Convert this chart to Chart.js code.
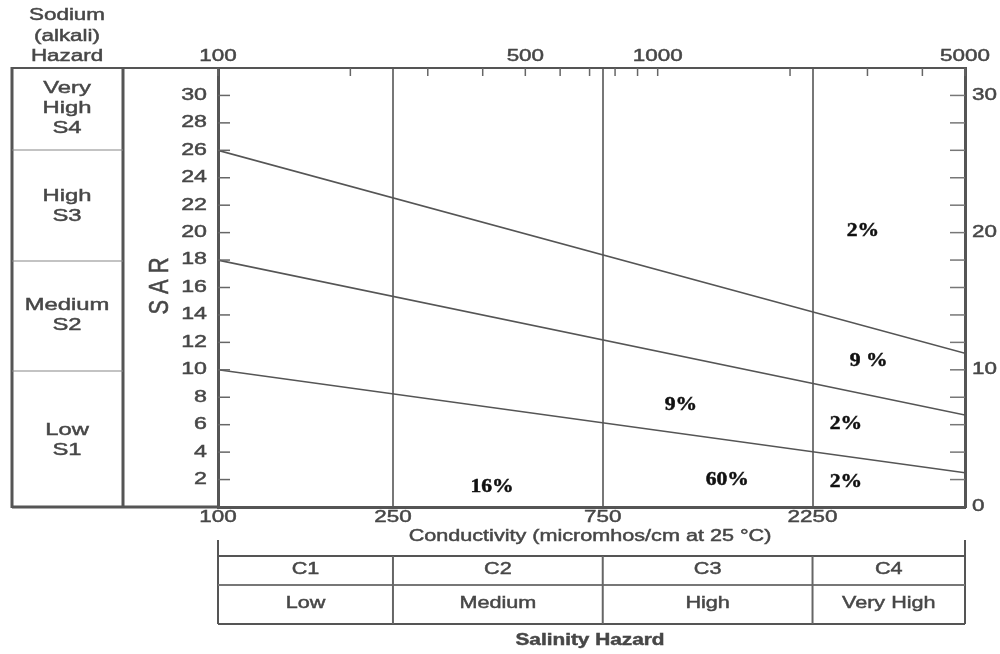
<!DOCTYPE html>
<html>
<head>
<meta charset="utf-8">
<script src="https://cdn.jsdelivr.net/npm/chart.js@4.4.1/dist/chart.umd.min.js"></script>
<style>
  body { margin: 0; background: #fff; }
  #wrap { width: 1000px; height: 654px; }
</style>
</head>
<body>
<div id="wrap"><canvas id="ussl"></canvas></div>
<script>
// conductivity (EC) end points of the hazard boundary lines
const ecEnds = [100, 5000];
// SAR boundary lines: S3/S4, S2/S3, S1/S2
const sarS4 = [26, 11.2];
const sarS3 = [18, 6.7];
const sarS2 = [10, 2.5];

const bottomTicks = [100, 250, 750, 2250];
const topTicks = [100, 200, 300, 400, 500, 600, 700, 800, 900, 1000, 2000, 3000, 4000, 5000];
const topLabels = [100, 500, 1000, 5000];
const sarTicks = [2, 4, 6, 8, 10, 12, 14, 16, 18, 20, 22, 24, 26, 28, 30];
const rightTicks = [2, 4, 6, 8, 10, 12, 14, 16, 18, 20, 22, 24, 26, 28, 30];
const rightLabels = [0, 10, 20, 30];

// percentages of samples per class
const pctText = ['2%', '9 %', '9%', '2%', '16%', '60%', '2%'];
const pctEC = [2930, 3020, 1130, 2680, 420, 1440, 2680];
const pctSAR = [20.1, 10.6, 7.4, 6.0, 1.45, 1.95, 1.8];

const sodiumClasses = [['Very', 'High', 'S4'], ['High', 'S3'], ['Medium', 'S2'], ['Low', 'S1']];
const salinityCodes = ['C1', 'C2', 'C3', 'C4'];
const salinityNames = ['Low', 'Medium', 'High', 'Very High'];

const grey = '#474747';
const sans = '"Liberation Sans", Arial, sans-serif';

function toPts(ys) {
  return ecEnds.map((x, i) => ({ x: x, y: ys[i] }));
}

// the scan is stretched sideways, so text gets a horizontal scale
function txt(c, s, x, y, font, sx, align, color) {
  c.save();
  c.font = font;
  c.fillStyle = color || grey;
  c.strokeStyle = color || grey;
  c.lineWidth = 0.45;
  c.textAlign = align || 'center';
  c.textBaseline = 'middle';
  c.translate(x, y);
  c.scale(sx, 1);
  c.fillText(s, 0, 0);
  c.strokeText(s, 0, 0);
  c.restore();
}

function line(c, x1, y1, x2, y2, w, col) {
  c.beginPath();
  c.strokeStyle = col || '#555';
  c.lineWidth = w;
  c.moveTo(x1, y1);
  c.lineTo(x2, y2);
  c.stroke();
}

const decor = {
  id: 'decor',
  afterDraw(chart) {
    const c = chart.ctx;
    const a = chart.chartArea;
    const sx = chart.scales.x, sy = chart.scales.y;
    const f16 = '16px ' + sans;

    // sodium hazard panel
    line(c, 12, a.top, a.left, a.top, 2);
    line(c, 12, a.bottom, a.left, a.bottom, 3);
    line(c, 12, a.top - 1, 12, a.bottom + 1, 3);
    line(c, 123, a.top - 1, 123, a.bottom + 1, 3);
    const divs = [150, 261, 371];
    divs.forEach(y => line(c, 12, y, 123, y, 1.2, '#888'));
    txt(c, 'Sodium', 67, 16, f16, 1.4);
    txt(c, '(alkali)', 67, 37, f16, 1.4);
    txt(c, 'Hazard', 67, 57, f16, 1.4);
    const mids = [108, 206, 315, 440];
    sodiumClasses.forEach((rows, i) => {
      rows.forEach((r, j) => {
        txt(c, r, 67, mids[i] + (j - (rows.length - 1) / 2) * 20, '17px ' + sans, 1.4);
      });
    });

    // SAR title
    c.save();
    c.translate(160, 286);
    c.rotate(-Math.PI / 2);
    c.scale(1.15, 1.45);
    c.font = '19px ' + sans;
    c.fillStyle = grey;
    c.strokeStyle = grey;
    c.lineWidth = 0.4;
    c.textAlign = 'center';
    c.textBaseline = 'middle';
    c.fillText('S A R', 0, 0);
    c.strokeText('S A R', 0, 0);
    c.restore();

    // inward ticks + labels, left axis
    sarTicks.forEach(v => {
      const y = sy.getPixelForValue(v);
      line(c, a.left, y, a.left + 12, y, 1.5, '#666');
      txt(c, String(v), 207, y, f16, 1.45, 'right');
    });
    // right axis
    rightTicks.forEach(v => {
      const y = sy.getPixelForValue(v);
      line(c, a.right - 15, y, a.right, y, 1.5, '#777');
    });
    rightLabels.forEach(v => {
      txt(c, String(v), 972, sy.getPixelForValue(v), f16, 1.4, 'left');
    });
    // top axis
    topTicks.forEach(v => {
      const x = sx.getPixelForValue(v);
      line(c, x, a.top, x, a.top + 8, 1.5, '#666');
      if (topLabels.includes(v)) txt(c, String(v), x, 57, f16, 1.4);
    });
    // bottom labels
    bottomTicks.forEach(v => {
      txt(c, String(v), sx.getPixelForValue(v), 518, f16, 1.4);
    });
    txt(c, 'Conductivity (micromhos/cm at 25 \u00B0C)', 590, 537, f16, 1.35);

    // salinity hazard table
    const tTop = 556, tMid = 585, tBot = 624;
    line(c, a.left, 540, a.left, tBot, 2);
    line(c, a.right, 540, a.right, tBot, 2);
    line(c, a.left, tTop, a.right, tTop, 2);
    line(c, a.left, tMid, a.right, tMid, 2, '#777');
    line(c, a.left, tBot, a.right, tBot, 2);
    const edges = [100, 250, 750, 2250, 5000].map(v => sx.getPixelForValue(v));
    edges.slice(1, 4).forEach(x => line(c, x, tTop, x, tBot, 2, '#666'));
    salinityCodes.forEach((s, i) => {
      const cx = (edges[i] + edges[i + 1]) / 2;
      txt(c, s, cx, 570, f16, 1.35);
      txt(c, salinityNames[i], cx, 604, f16, 1.35);
    });
    txt(c, 'Salinity Hazard', 590, 641, 'bold 16px ' + sans, 1.3);

    // sample percentages
    pctText.forEach((s, i) => {
      txt(c, s, sx.getPixelForValue(pctEC[i]), sy.getPixelForValue(pctSAR[i]),
        'bold 18px "Liberation Serif", "Times New Roman", serif', 1.2, 'center', '#111');
    });
  }
};

const lineStyle = { borderColor: '#555', borderWidth: 1.6, pointRadius: 0, fill: false, tension: 0 };

new Chart(document.getElementById('ussl'), {
  type: 'line',
  data: {
    datasets: [
      Object.assign({ data: toPts(sarS4) }, lineStyle),
      Object.assign({ data: toPts(sarS3) }, lineStyle),
      Object.assign({ data: toPts(sarS2) }, lineStyle)
    ]
  },
  options: {
    responsive: true,
    maintainAspectRatio: false,
    animation: false,
    events: [],
    layout: { padding: 0 },
    plugins: { legend: { display: false }, tooltip: { enabled: false } },
    scales: {
      x: {
        type: 'logarithmic', position: 'bottom', min: 100, max: 5000,
        afterBuildTicks: s => { s.ticks = bottomTicks.map(v => ({ value: v })); },
        afterFit: s => { s.height = 147; },
        ticks: { display: false },
        grid: { color: '#777', lineWidth: 2, drawTicks: false },
        border: { color: '#555', width: 3 }
      },
      x2: {
        type: 'logarithmic', position: 'top', min: 100, max: 5000,
        afterFit: s => { s.height = 68; },
        ticks: { display: false },
        grid: { display: false },
        border: { color: '#555', width: 2 }
      },
      y: {
        type: 'linear', position: 'left', min: 0, max: 32,
        afterFit: s => { s.width = 218; },
        ticks: { display: false },
        grid: { display: false },
        border: { color: '#555', width: 3 }
      },
      y2: {
        type: 'linear', position: 'right', min: 0, max: 32,
        afterFit: s => { s.width = 35; },
        ticks: { display: false },
        grid: { display: false },
        border: { color: '#555', width: 3 }
      }
    }
  },
  plugins: [decor]
});
</script>
</body>
</html>
